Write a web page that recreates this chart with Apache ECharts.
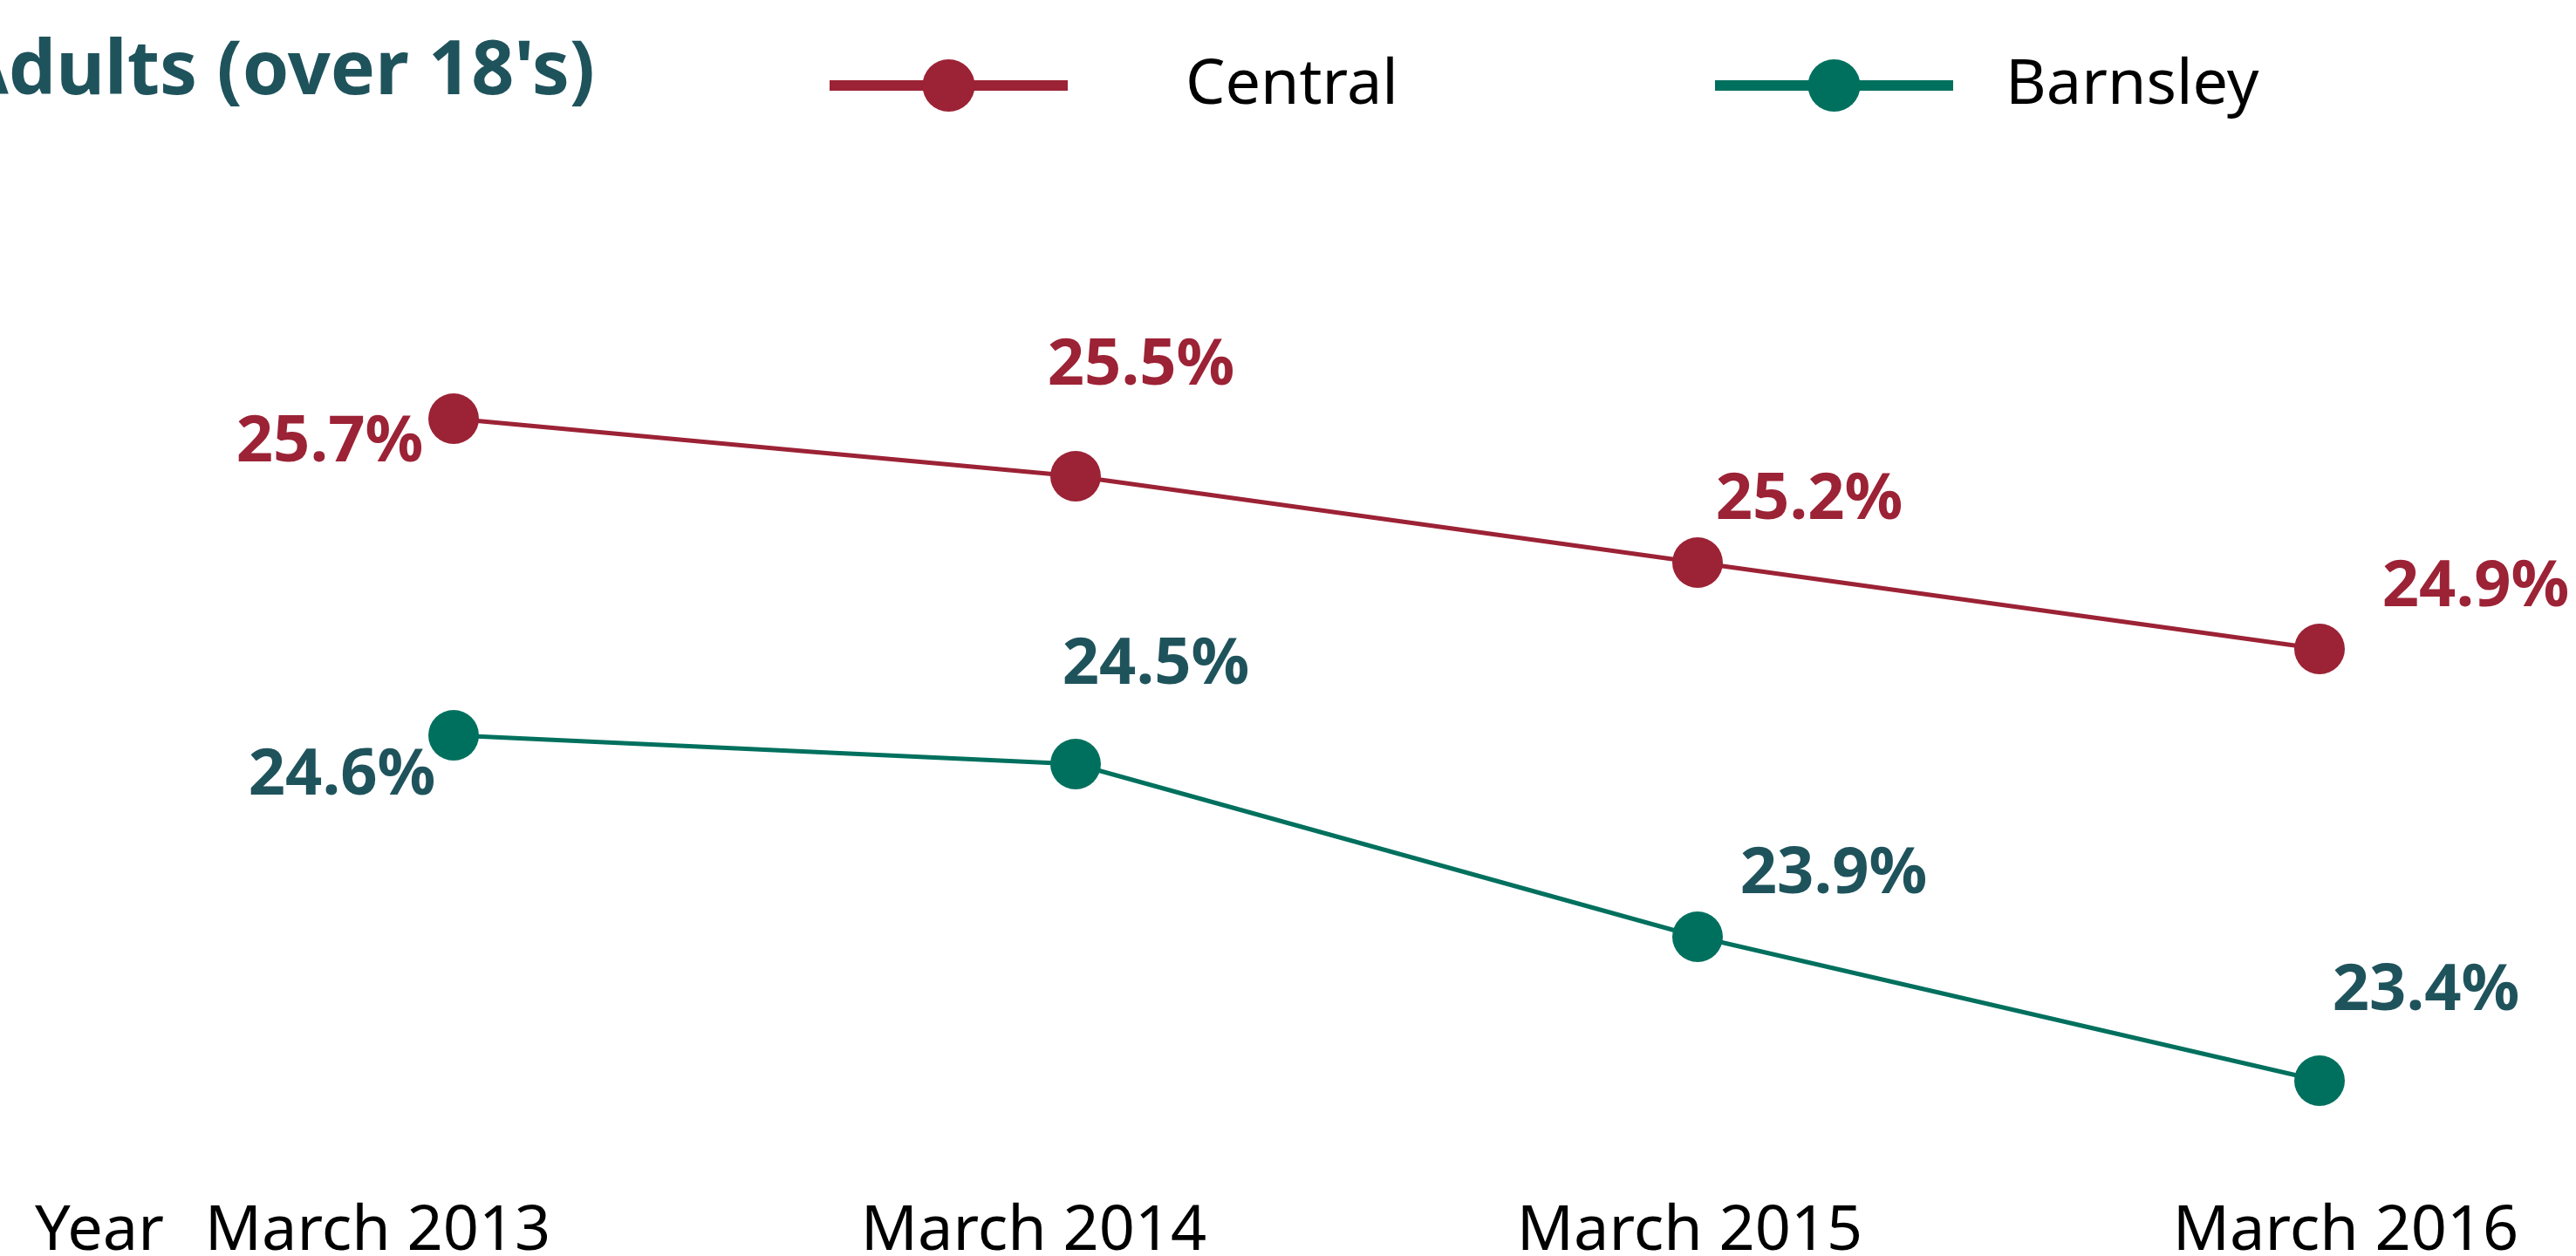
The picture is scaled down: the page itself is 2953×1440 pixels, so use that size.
<!DOCTYPE html>
<html>
<head>
<meta charset="utf-8">
<script src="https://cdn.jsdelivr.net/npm/echarts@6/dist/echarts.min.js"></script>
<style>
  html, body { margin: 0; padding: 0; background: #fff; }
  #container { width: 2953px; height: 1440px; }
</style>
</head>
<body>
<div id="container"></div>
<script>
var categories = ['March 2013', 'March 2014', 'March 2015', 'March 2016'];
var seriesNames = ['Central', 'Barnsley'];
var centralValues = [25.7, 25.5, 25.2, 24.9];
var barnsleyValues = [24.6, 24.5, 23.9, 23.4];

var red = '#9c2235';
var green = '#00705e';
var tealText = '#1f535c';

// where each value label sits relative to its point
var centralLabelOffsets = [[-142, 28], [75, -126], [128, -71], [179, -70]];
var barnsleyLabelOffsets = [[-128, 47], [92, -113], [156, -71], [122, -102]];

function buildData(values, offsets){
    let out = [];
    for (let i = 0; i < values.length; i++){
        out.push({
            value: values[i],
            label: { offset: offsets[i] }
        })
    }
    return out;
}

function pct(p){
    return Number(p.value).toFixed(1) + '%';
}

function legendBox(name, left, gap){
    return {
        data: [name],
        left: left,
        top: 62,
        padding: 0,
        itemWidth: 273,
        itemHeight: 75,
        lineStyle: { width: 12 },
        textStyle: {
            color: '#000',
            fontFamily: 'Noto Sans',
            fontSize: 72,
            padding: [0, 0, 0, gap]
        }
    };
}

function init(){
    let dom = document.getElementById("container");
    let myChart = echarts.init(dom);
    let option = {
        animation: false,
        backgroundColor: '#fff',
        title: {
            text: "Adults (over 18's)",
            right: 2271,
            top: 40,
            padding: 0,
            textStyle: {
                color: tealText,
                fontFamily: 'Noto Sans',
                fontWeight: 'bold',
                fontSize: 86
            }
        },
        legend: [
            legendBox(seriesNames[0], 945, 130),
            legendBox(seriesNames[1], 1960, 55)
        ],
        grid: [
            { left: 520, right: 294, top: 216, bottom: 69, outerBoundsMode: 'none' },
            { left: 433, right: 264, top: 1300, height: 70, outerBoundsMode: 'none' }
        ],
        xAxis: [{
            type: 'category',
            gridIndex: 0,
            data: categories,
            boundaryGap: false,
            axisLine: { show: false },
            axisTick: { show: false },
            axisLabel: { show: false },
            splitLine: { show: false }
        }, {
            type: 'category',
            gridIndex: 1,
            data: categories,
            boundaryGap: false,
            name: 'Year',
            nameLocation: 'start',
            nameGap: 245,
            nameTextStyle: {
                color: '#000',
                fontFamily: 'Noto Sans',
                fontSize: 72,
                verticalAlign: 'top',
                padding: [6, 0, 0, 0]
            },
            axisLine: { show: false },
            axisTick: { show: false },
            splitLine: { show: false },
            axisLabel: {
                color: '#000',
                fontFamily: 'Noto Sans',
                fontSize: 72,
                margin: 6
            }
        }],
        yAxis: [{
            type: 'value',
            gridIndex: 0,
            min: 23,
            max: 26.5,
            interval: 0.5,
            show: false
        }, {
            type: 'value',
            gridIndex: 1,
            show: false
        }],
        series: [{
            name: seriesNames[0],
            type: 'line',
            xAxisIndex: 0,
            yAxisIndex: 0,
            symbol: 'circle',
            symbolSize: 58,
            itemStyle: { color: red },
            lineStyle: { color: red, width: 5 },
            label: {
                show: true,
                position: 'inside',
                formatter: pct,
                color: red,
                fontFamily: 'Noto Sans',
                fontWeight: 'bold',
                fontSize: 74
            },
            data: buildData(centralValues, centralLabelOffsets)
        }, {
            name: seriesNames[1],
            type: 'line',
            xAxisIndex: 0,
            yAxisIndex: 0,
            symbol: 'circle',
            symbolSize: 58,
            itemStyle: { color: green },
            lineStyle: { color: green, width: 5 },
            label: {
                show: true,
                position: 'inside',
                formatter: pct,
                color: tealText,
                fontFamily: 'Noto Sans',
                fontWeight: 'bold',
                fontSize: 74
            },
            data: buildData(barnsleyValues, barnsleyLabelOffsets)
        }]
    };
    myChart.setOption(option, true);
}

init();
</script>
</body>
</html>
